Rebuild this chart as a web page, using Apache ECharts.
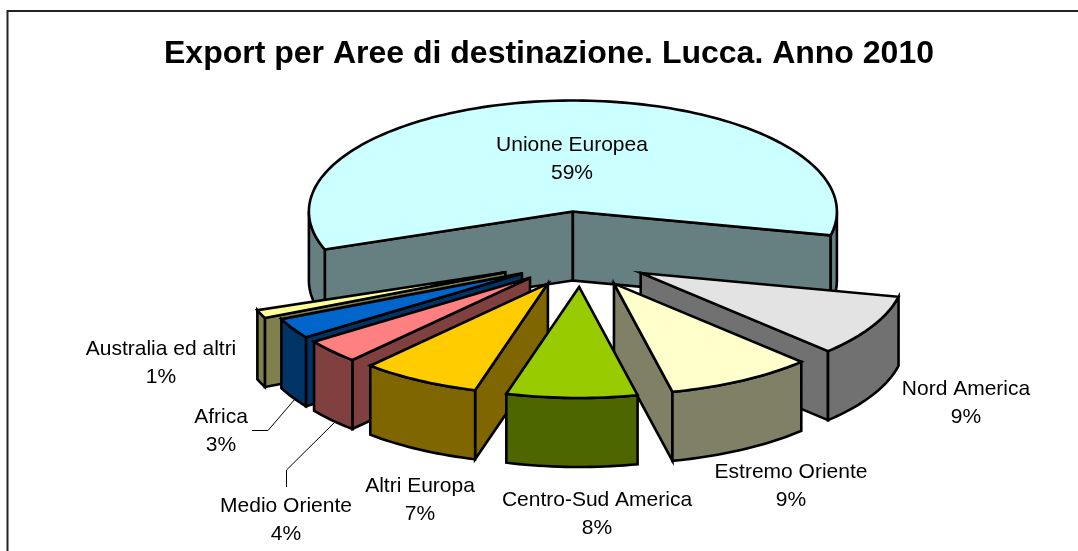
<!DOCTYPE html>
<html>
<head>
<meta charset="utf-8">
<title>Export per Aree di destinazione</title>
<style>
html, body { margin: 0; padding: 0; background: #fff; }
#chart { width: 1078px; height: 551px; }
</style>
<script src="https://cdn.jsdelivr.net/npm/echarts@6/dist/echarts.min.js"></script>
</head>
<body>
<div id="chart"></div>
<script>
// dati (le etichette mostrano il valore arrotondato)
var categories = ['Unione Europea', 'Nord America', 'Estremo Oriente', 'Centro-Sud America', 'Altri Europa', 'Medio Oriente', 'Africa', 'Australia ed altri'];
var shares = [59, 9, 9, 8, 7.3, 3.5, 3, 1.2];

// stile
var topColors = ['#CCFFFF', '#E3E3E3', '#FFFFCC', '#99CC00', '#FFCC00', '#FF8080', '#0066CC', '#FFFF99'];
var sideColors = ['#667F80', '#717171', '#808066', '#4D6600', '#806600', '#804040', '#003366', '#80804D'];
var explode = [1.8, 1, 1, 1, 1, 1, 1, 1.2];
var labelCenters = [[572, 159], [966, 403], [791, 486], [597, 514], [420, 500], [286, 520], [221, 431], [161, 363]];

// geometria della torta 3D
var cx = 581, cy = 260;      // centro prima dell'esplosione
var rx = 264, ry = 111;      // raggi dell'ellisse
var kx = 68, ky = 27;        // spostamento di esplosione
var depth = 69;
var startAngle = 160;        // gradi, senso orario da est

var toRad = Math.PI / 180;
var total = shares.reduce(function (a, b) { return a + b; }, 0);

// angoli di inizio e fine di ogni fetta
var angles = [];
var acc = 0;
shares.forEach(function (v) {
    var a1 = echarts.number.linearMap(acc, [0, total], [startAngle, startAngle + 360]);
    acc += v;
    var a2 = echarts.number.linearMap(acc, [0, total], [startAngle, startAngle + 360]);
    angles.push([a1, a2]);
});

// si disegna da dietro in avanti
var drawOrder = shares.map(function (v, i) { return i; }).sort(function (a, b) {
    var ma = (angles[a][0] + angles[a][1]) / 2 * toRad;
    var mb = (angles[b][0] + angles[b][1]) / 2 * toRad;
    return Math.sin(ma) - Math.sin(mb);
});

function rim(ox, oy, deg) {
    return [ox + rx * Math.cos(deg * toRad), oy + ry * Math.sin(deg * toRad)];
}

function arcPoints(ox, oy, from, to) {
    var pts = [];
    var n = Math.max(2, Math.ceil((to - from) / 1.5));
    for (var i = 0; i <= n; i++) {
        pts.push(rim(ox, oy, from + (to - from) * i / n));
    }
    return pts;
}

function face(points, fill) {
    return {
        type: 'polygon',
        shape: { points: points },
        style: { fill: fill, stroke: '#000', lineWidth: 2.6, lineJoin: 'miter' }
    };
}

var renderSlice = function (params, api) {
    var i = api.value(1);
    var a1 = angles[i][0], a2 = angles[i][1];
    var mid = (a1 + a2) / 2 * toRad;
    var ox = cx + kx * explode[i] * Math.cos(mid);
    var oy = cy + ky * explode[i] * Math.sin(mid);
    var side = sideColors[i];
    var children = [];

    function radialWall(deg) {
        var p = rim(ox, oy, deg);
        children.push(face([[ox, oy], p, [p[0], p[1] + depth], [ox, oy + depth]], side));
    }
    // pareti radiali visibili
    if (Math.cos(a1 * toRad) < 0) { radialWall(a1); }
    if (Math.cos(a2 * toRad) > 0) { radialWall(a2); }

    // parete esterna, solo nella parte anteriore dell'ellisse
    [[0, 180], [360, 540]].forEach(function (range) {
        var from = Math.max(a1, range[0]);
        var to = Math.min(a2, range[1]);
        if (to <= from) { return; }
        var upper = arcPoints(ox, oy, from, to);
        var lower = upper.map(function (p) { return [p[0], p[1] + depth]; }).reverse();
        children.push(face(upper.concat(lower), side));
    });

    // faccia superiore
    children.push(face([[ox, oy]].concat(arcPoints(ox, oy, a1, a2)), topColors[i]));

    return { type: 'group', children: children };
};

var myChart = echarts.init(document.getElementById('chart'));

var labelGraphics = categories.map(function (name, i) {
    return {
        type: 'text',
        x: labelCenters[i][0],
        y: labelCenters[i][1],
        z: 10,
        style: {
            text: name + '\n' + Math.round(shares[i]) + '%',
            font: '21px "Liberation Sans", Arial, sans-serif',
            fill: '#000',
            align: 'center',
            verticalAlign: 'middle',
            lineHeight: 28
        }
    };
});

var option = {
    animation: false,
    backgroundColor: '#fff',
    title: {
        text: 'Export per Aree di destinazione. Lucca. Anno 2010',
        left: 544,
        top: 49,
        textAlign: 'center',
        textVerticalAlign: 'middle',
        textStyle: {
            fontFamily: '"Liberation Sans", Arial, sans-serif',
            fontWeight: 'bold',
            fontSize: 32,
            color: '#000'
        }
    },
    series: [
        {
            type: 'custom',
            coordinateSystem: 'none',
            silent: true,
            renderItem: renderSlice,
            data: drawOrder.map(function (i) { return [shares[i], i]; })
        }
    ],
    graphic: [
        // cornice
        { type: 'polyline', shape: { points: [[7.5, 551], [7.5, 11], [1078, 11]] }, style: { fill: 'none', stroke: '#222', lineWidth: 2 } },
        // linee guida
        { type: 'polyline', shape: { points: [[252, 430.5], [268, 430.5], [295, 399]] }, style: { fill: 'none', stroke: '#000', lineWidth: 1 } },
        { type: 'polyline', shape: { points: [[286.5, 487], [286.5, 470], [335, 422]] }, style: { fill: 'none', stroke: '#000', lineWidth: 1 } }
    ].concat(labelGraphics)
};
myChart.setOption(option);
</script>
</body>
</html>
